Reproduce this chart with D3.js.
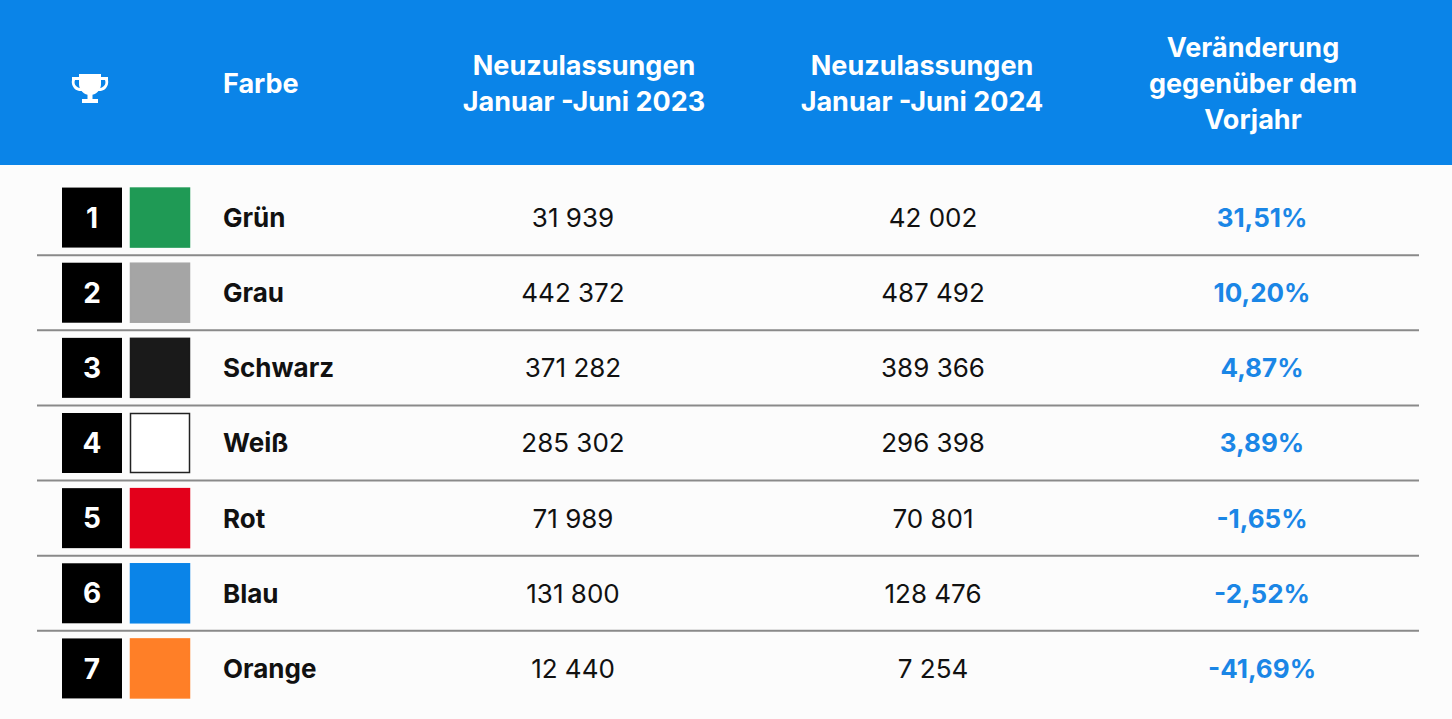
<!DOCTYPE html>
<html><head><meta charset="utf-8">
<script src="https://cdn.jsdelivr.net/npm/d3@7"></script>
<style>body{margin:0;background:#fcfcfc;font-family:Inter,"Open Sans",sans-serif;}</style>
</head><body><svg id="chart"></svg>
<script>
var ranks = [1, 2, 3, 4, 5, 6, 7];
var colorNames = ["Grün", "Grau", "Schwarz", "Weiß", "Rot", "Blau", "Orange"];
var swatches = ["#1f9a55", "#a5a5a5", "#1a1a1a", "#ffffff", "#e3001b", "#0a84e8", "#ff7f27"];
var values2023 = ["31 939", "442 372", "371 282", "285 302", "71 989", "131 800", "12 440"];
var values2024 = ["42 002", "487 492", "389 366", "296 398", "70 801", "128 476", "7 254"];
var changes = ["31,51%", "10,20%", "4,87%", "3,89%", "-1,65%", "-2,52%", "-41,69%"];

var width = 1452, height = 719, headerH = 165;
var svg = d3.select("#chart").attr("width", width).attr("height", height);
svg.append("rect").attr("width", width).attr("height", height).attr("fill", "#fcfcfc");
svg.append("rect").attr("width", width).attr("height", headerH).attr("fill", "#0a84e8");

// trophy icon
var t = svg.append("g").attr("transform", "translate(90,88)").attr("fill", "#fff");
t.append("path").attr("d", "M-11,-14 H11 V-4 A11,11 0 0 1 -11,-4 Z");
t.append("path").attr("d", "M-11,-11 H-18 V-8 A9,9 0 0 0 -8,3 L-8,0 A6,6 0 0 1 -15,-8 V-8 H-11 Z");
t.append("path").attr("d", "M11,-11 H18 V-8 A9,9 0 0 1 8,3 L8,0 A6,6 0 0 0 15,-8 V-8 H11 Z");
t.append("rect").attr("x", -2.5).attr("y", 5).attr("width", 5).attr("height", 7);
t.append("rect").attr("x", -8).attr("y", 11).attr("width", 16).attr("height", 4);

var headers = [
  {x: 223, anchor: "start", lines: ["Farbe"]},
  {x: 584, anchor: "middle", lines: ["Neuzulassungen", "Januar -Juni 2023"]},
  {x: 922, anchor: "middle", lines: ["Neuzulassungen", "Januar -Juni 2024"]},
  {x: 1253, anchor: "middle", lines: ["Veränderung", "gegenüber dem", "Vorjahr"]}
];
headers.forEach(function(h) {
  var y0 = 84 - (h.lines.length - 1) * 18;
  var txt = svg.append("text").attr("fill", "#fff").attr("font-weight", 700)
    .attr("font-size", 27).attr("text-anchor", h.anchor);
  h.lines.forEach(function(l, i) {
    txt.append("tspan").attr("x", h.x).attr("y", y0 + i * 36).attr("dy", "0.35em").text(l);
  });
});

var yScale = d3.scaleBand().domain(ranks).range([180, 706]);
var rows = svg.selectAll(".row").data(ranks).join("g")
  .attr("transform", function(d) { return "translate(0," + (yScale(d) + yScale.bandwidth() / 2) + ")"; });

rows.filter(function(d, i) { return i > 0; }).append("line")
  .attr("x1", 37).attr("x2", 1419)
  .attr("y1", -yScale.bandwidth() / 2).attr("y2", -yScale.bandwidth() / 2)
  .attr("stroke", "#8a8a8a").attr("stroke-width", 2);

rows.append("rect").attr("x", 62).attr("y", -30).attr("width", 60).attr("height", 60).attr("fill", "#000");
rows.append("text").attr("x", 92).attr("dy", "0.36em").attr("text-anchor", "middle")
  .attr("fill", "#fff").attr("font-weight", 700).attr("font-size", 28).text(function(d) { return d; });
rows.append("rect").attr("x", 130.5).attr("y", -29.5).attr("width", 59).attr("height", 59)
  .attr("fill", function(d, i) { return swatches[i]; })
  .attr("stroke", function(d, i) { return i === 3 ? "#222" : swatches[i]; }).attr("stroke-width", 1.5);
rows.append("text").attr("x", 223).attr("dy", "0.36em").attr("font-weight", 700)
  .attr("font-size", 26).attr("fill", "#111").text(function(d, i) { return colorNames[i]; });
rows.append("text").attr("x", 573).attr("dy", "0.36em").attr("text-anchor", "middle")
  .attr("font-size", 26).attr("fill", "#111").text(function(d, i) { return values2023[i]; });
rows.append("text").attr("x", 933).attr("dy", "0.36em").attr("text-anchor", "middle")
  .attr("font-size", 26).attr("fill", "#111").text(function(d, i) { return values2024[i]; });
rows.append("text").attr("x", 1262).attr("dy", "0.36em").attr("text-anchor", "middle")
  .attr("font-size", 26).attr("font-weight", 700).attr("fill", "#1a86e6").text(function(d, i) { return changes[i]; });
</script></body></html>
